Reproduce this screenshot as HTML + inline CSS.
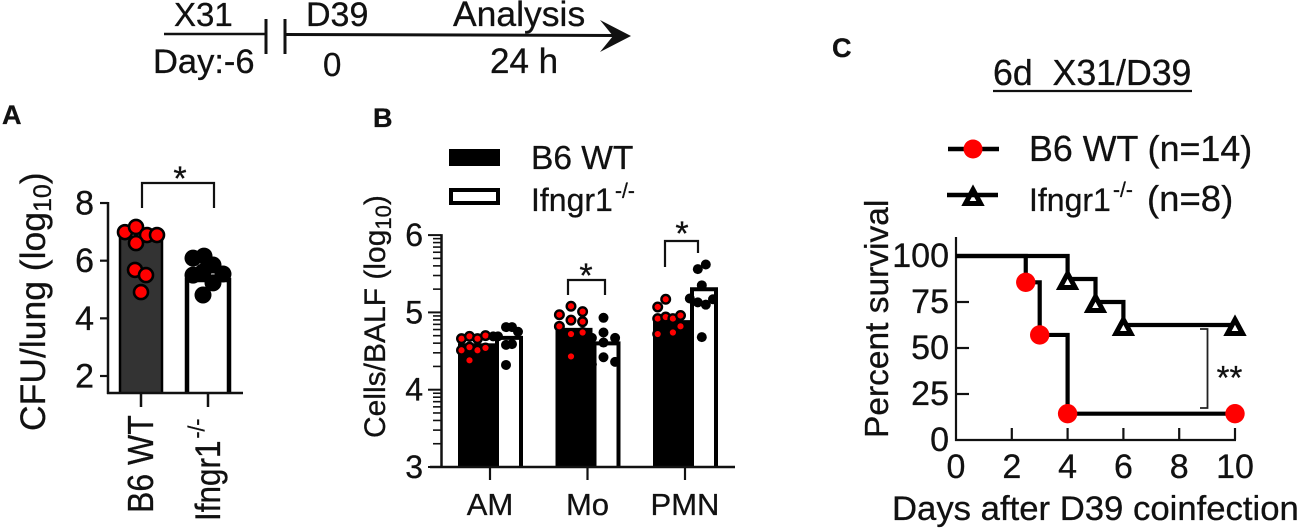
<!DOCTYPE html>
<html>
<head>
<meta charset="utf-8">
<title>X31/D39 coinfection figure</title>
<style>
html,body{margin:0;padding:0;background:#fff;width:1299px;height:529px;overflow:hidden}
svg{display:block}
text{font-family:"Liberation Sans",sans-serif;fill:#111;stroke:#111;stroke-width:.3px}
</style>
</head>
<body>
<svg id="fig" xmlns="http://www.w3.org/2000/svg" width="1299" height="529" viewBox="0 0 1299 529">
  <g>
    <line x1="164" y1="34" x2="266" y2="34" stroke="#111" stroke-width="2.5"/>
    <line x1="266" y1="19" x2="266" y2="54" stroke="#111" stroke-width="3"/>
    <line x1="285" y1="19" x2="285" y2="54" stroke="#111" stroke-width="3"/>
    <line x1="285" y1="34.500" x2="615" y2="35.500" stroke="#111" stroke-width="3"/>
    <path d="M631 36 L600 20 L613 36 L600 52 Z" fill="#111"/>
    <text x="174" y="26" font-size="33">X31</text>
    <text x="306" y="26" font-size="34">D39</text>
    <text x="453" y="26" font-size="35.500">Analysis</text>
    <text x="153" y="73" font-size="34.500">Day:-6</text>
    <text x="323" y="76" font-size="33">0</text>
    <text x="490" y="73" font-size="35">24 h</text>
  </g>
  <text x="2" y="124" font-size="27" font-weight="bold">A</text>
  <text x="373" y="127" font-size="27" font-weight="bold">B</text>
  <text x="832" y="57" font-size="27" font-weight="bold">C</text>

  <g id="panelA"></g>
  <g id="panelB"></g>
  <g id="panelC"></g>

  <text transform="translate(45,431) rotate(-90)" font-size="35.500">CFU/lung (log<tspan font-size="25" dy="6">10</tspan><tspan dy="-6">)</tspan></text>
  <text transform="translate(153,513) rotate(-90) scale(1,1.120)" font-size="32">B6 WT</text>
  <text transform="translate(220,521) rotate(-90) scale(1,1.120)" font-size="31.500">Ifngr1<tspan font-size="21" dy="-14" dx="2">-/-</tspan></text>

  <text transform="translate(385,438) rotate(-90)" font-size="30">Cells/BALF (log<tspan font-size="22" dy="6">10</tspan><tspan dy="-6">)</tspan></text>
  <g>
    <rect x="449" y="149" width="51" height="17" fill="#000"/>
    <rect x="451" y="190" width="47" height="13" fill="#fff" stroke="#000" stroke-width="4"/>
    <text x="531" y="169" font-size="33.500">B6 WT</text>
    <text x="531" y="211" font-size="32">Ifngr1<tspan font-size="21" x="615" y="198">-/-</tspan></text>
  </g>

  <g>
    <text x="993" y="85" font-size="35.700" xml:space="preserve">6d  X31/D39</text>
    <line x1="993" y1="91" x2="1192" y2="91" stroke="#111" stroke-width="2.200"/>
  </g>
  <g>
    <line x1="948" y1="149" x2="999" y2="149" stroke="#000" stroke-width="4.500"/>
    <circle cx="973" cy="149" r="9.500" fill="#ff0000"/>
    <path d="M973 189.600 L980.500 203.500 L965.500 203.500 Z" fill="#fff" stroke="#000" stroke-width="5"/>
    <line x1="947" y1="195" x2="998" y2="195" stroke="#000" stroke-width="4.500"/>
    <text x="1029" y="161" font-size="35.800">B6 WT (n=14)</text>
    <text x="1029" y="211" font-size="32">Ifngr1<tspan font-size="21" x="1113" y="197">-/-</tspan><tspan font-size="36.500" x="1147" y="211">(n=8)</tspan></text>
  </g>
  <text transform="translate(888,438) rotate(-90)" font-size="33.500">Percent survival</text>
  <text x="892" y="520" font-size="34.700">Days after D39 coinfection</text>
</svg>
<script>
// Panel A data
var aCategories = ['B6 WT', 'Ifngr1-/-'];
var aMeans = [6.79, 5.33];
var aTicks = [2, 4, 6, 8];
var aRed = [6.99, 7.17, 6.89, 6.89, 6.61, 5.68, 5.50, 4.91];
var aRedJitter = [-1.6, -0.5, 0.6, 1.6, -0.5, -0.6, 0.5, 0];
var aBlack = [6.09, 6.16, 5.85, 5.50, 5.54, 5.23, 5.61, 4.81];
var aBlackJitter = [-1.5, -0.4, 0.5, -1.5, 1.5, 0.5, -0.5, -0.5];

// Panel B data
var bCategories = ['AM', 'Mo', 'PMN'];
var bTicks = [3, 4, 5, 6];
var bWtMeans = [4.6, 4.8, 4.9];
var bKoMeans = [4.67, 4.6, 5.3];
var bWtPoints = [
  [4.66, 4.69, 4.66, 4.70, 4.51, 4.55, 4.51, 4.54, 4.38],
  [4.97, 5.08, 5.01, 4.82, 4.90, 4.88, 4.72, 4.74, 4.43],
  [5.07, 5.17, 4.92, 4.94, 4.92, 4.96, 4.82, 4.72, 4.74]
];
var bWtJitter = [
  [-1.5, -0.5, 0.5, 1.5, -1.5, -0.5, 0.5, 1.5, -0.5],
  [-1.45, 0, 1.45, -1.45, 0, 1.45, 0, 1.45, 0],
  [-1.35, -0.35, -1.35, -0.35, 0.55, 1.5, 1.5, -1.35, 0.55]
];
var bKoPoints = [
  [4.69, 4.69, 4.81, 4.81, 4.75, 4.58, 4.59, 4.32],
  [4.67, 4.93, 4.67, 4.74, 4.61, 4.42, 4.33, 4.36],
  [5.56, 5.62, 5.35, 5.18, 5.13, 5.10, 5.17, 4.68]
];
var bKoJitter = [
  [-1.6, -1, 0, 0.75, 1.5, 0, 0.75, 0],
  [-1.45, 0, 1.45, 0, 0, 0, -1.45, 1.45],
  [-0.4, 0.6, 0.1, -1.4, -0.4, 0.6, 1.5, 0.1]
];

// Panel C data
var cXTicks = [0, 2, 4, 6, 8, 10];
var cYTicks = [0, 25, 50, 75, 100];
var wtDays = [2.5, 3, 4, 10];
var wtSurvival = [85.7, 57.1, 14.3, 14.3];
var koDays = [4, 5, 6, 10];
var koSurvival = [87.5, 75, 62.5, 62.5];

var NS = 'http://www.w3.org/2000/svg';
function mk(parent, tag, attrs, txt) {
  var el = document.createElementNS(NS, tag);
  for (var k in attrs) el.setAttribute(k, attrs[k]);
  if (txt !== undefined) el.textContent = txt;
  parent.appendChild(el);
  return el;
}
function line(parent, x1, y1, x2, y2, w, color) {
  return mk(parent, 'line', {x1: x1, y1: y1, x2: x2, y2: y2, stroke: color || '#111', 'stroke-width': w});
}
function openBar(left, right, top, base) {
  return 'M' + left + ' ' + base + ' V' + top + ' H' + right + ' V' + base;
}
function stepPath(days, vals, x, y, startDay) {
  var d = 'M' + x(startDay) + ' ' + y(100);
  var prev = 100;
  for (var i = 0; i < days.length; i++) {
    d += ' L' + x(days[i]) + ' ' + y(prev) + ' L' + x(days[i]) + ' ' + y(vals[i]);
    prev = vals[i];
  }
  return d;
}

/* ---------- Panel A ---------- */
(function () {
  var g = document.getElementById('panelA');
  var yA = function (v) { return 376 - (v - 2) * 28.83; };
  var xA = function (i) { return 141 + i * 67; };
  aMeans.forEach(function (m, i) {
    var sw = i === 0 ? 2.5 : 4.5;
    var r = mk(g, 'path', {d: openBar(xA(i) - 21, xA(i) + 21, yA(m), 393), fill: i === 0 ? '#333333' : '#ffffff', stroke: '#000', 'stroke-width': sw});
    
    
  });
  aRed.forEach(function (v, i) {
    var c = mk(g, 'circle', {cx: xA(0) + aRedJitter[i] * 10, cy: yA(v), r: 7, fill: '#ff0000', stroke: '#000', 'stroke-width': 2.6});
    
    
  });
  aBlack.forEach(function (v, i) {
    var c = mk(g, 'circle', {cx: xA(1) + aBlackJitter[i] * 10, cy: yA(v), r: 8.5, fill: '#000'});
    
    
  });
  line(g, 108, yA(8) - 1, 108, 394, 2.5);
  line(g, 107, 393, 243, 393, 2.5);
  aTicks.forEach(function (t) {
    line(g, 100, yA(t), 108, yA(t), 2.2);
    var tx = mk(g, 'text', {x: 94, y: yA(t) + 11.5, 'font-size': 34, 'text-anchor': 'end'}, String(t));
    
    
  });
  aCategories.forEach(function (c, i) { line(g, xA(i), 393, xA(i), 407, 2.5); });
  var br = mk(g, 'path', {d: 'M142 208 V183 H214 V208', fill: 'none', stroke: '#111', 'stroke-width': 2.2});
  
  
  var st = mk(g, 'text', {x: 180, y: 190, 'font-size': 34, 'text-anchor': 'middle'}, '*');
  
  
})();

/* ---------- Panel B ---------- */
(function () {
  var g = document.getElementById('panelB');
  var yB = function (v) { return 467 - (v - 3) * 77.3; };
  var xC = function (i) { return 490 + i * 97.5; };
  bCategories.forEach(function (cat, i) {
    var wtL = xC(i) - 32, wtR = xC(i) + 5;
    var koL = wtR + 2, koR = xC(i) + 31;
    var r1 = mk(g, 'rect', {x: wtL, y: yB(bWtMeans[i]), width: wtR - wtL, height: 467 - yB(bWtMeans[i]), fill: '#000'});
    
    
    var r2 = mk(g, 'path', {d: openBar(koL, koR, yB(bKoMeans[i]), 467), fill: '#fff', stroke: '#000', 'stroke-width': 4});
    
    
  });
  bCategories.forEach(function (cat, i) {
    var wtC = xC(i) - 16.5, koC = xC(i) + 16;
    bWtPoints[i].forEach(function (v, j) {
      var c = mk(g, 'circle', {cx: wtC + bWtJitter[i][j] * 8, cy: yB(v), r: 4.3, fill: '#ff0000', stroke: '#000', 'stroke-width': 2.4});
      
      
    });
    bKoPoints[i].forEach(function (v, j) {
      var c = mk(g, 'circle', {cx: koC + bKoJitter[i][j] * 8, cy: yB(v), r: 5, fill: '#000'});
      
      
    });
    line(g, xC(i), 467, xC(i), 480, 2.2);
    var tx = mk(g, 'text', {x: xC(i), y: 515, 'font-size': 31, 'text-anchor': 'middle'}, cat);
    
    
  });
  line(g, 441.5, yB(6) - 1, 441.5, 468, 2.5);
  line(g, 430, 467, 735, 467, 2.5);
  bTicks.forEach(function (t, idx) {
    line(g, 428, yB(t), 441, yB(t), 2);
    if (idx < bTicks.length - 1) {
      for (var k = 2; k < 10; k++) {
        var yy = yB(t + Math.log10(k));
        line(g, 433, yy, 441, yy, 1.6);
      }
    }
    var tx = mk(g, 'text', {x: 423, y: yB(t) + 11, 'font-size': 32, 'text-anchor': 'end'}, String(t));
    
    
  });
  var b1 = mk(g, 'path', {d: 'M568 295 V280 H605 V295', fill: 'none', stroke: '#111', 'stroke-width': 2.2});
  
  
  var b2 = mk(g, 'path', {d: 'M665 267 V241 H698 V253', fill: 'none', stroke: '#111', 'stroke-width': 2.2});
  
  
  var s1 = mk(g, 'text', {x: 586, y: 287, 'font-size': 34, 'text-anchor': 'middle'}, '*');
  
  
  var s2 = mk(g, 'text', {x: 682, y: 245, 'font-size': 34, 'text-anchor': 'middle'}, '*');
  
  
})();

/* ---------- Panel C ---------- */
(function () {
  var g = document.getElementById('panelC');
  var x = function (d) { return 956 + d * 27.9; };
  var y = function (p) { return 440 - p * 1.84; };
  line(g, 956, 237, 956, 441, 2.2);
  line(g, 955, 440, x(10) + 1, 440, 2.2);
  cXTicks.forEach(function (t) {
    if (t > 0) line(g, x(t), 428, x(t), 440, 2.2);
    var tx = mk(g, 'text', {x: x(t), y: 478, 'font-size': 34, 'text-anchor': 'middle'}, String(t));
    
    
  });
  cYTicks.forEach(function (t) {
    if (t > 0) line(g, 956, y(t), 969, y(t), 2.2);
    var tx = mk(g, 'text', {x: 949, y: y(t) + 11, 'font-size': 34, 'text-anchor': 'end'}, String(t));
    
    
  });
  var koLine = mk(g, 'path', {d: stepPath(koDays, koSurvival, x, y, 0), fill: 'none', stroke: '#000', 'stroke-width': 4.2});
  
  
  var wtLine = mk(g, 'path', {d: stepPath(wtDays, wtSurvival, x, y, 0), fill: 'none', stroke: '#000', 'stroke-width': 4.2});
  
  
  koDays.forEach(function (d, i) {
    var cx = x(d), cy = y(koSurvival[i]);
    var t = mk(g, 'path', {d: 'M' + cx + ' ' + (cy - 5.4) + ' L' + (cx + 7.5) + ' ' + (cy + 8.5) + ' L' + (cx - 7.5) + ' ' + (cy + 8.5) + ' Z', fill: '#fff', stroke: '#000', 'stroke-width': 5});
    
    
  });
  wtDays.forEach(function (d, i) {
    var c = mk(g, 'circle', {cx: x(d), cy: y(wtSurvival[i]), r: 9.7, fill: '#ff0000'});
    
    
  });
  var br = mk(g, 'path', {d: 'M1200 329 H1207.500 V408 H1200', fill: 'none', stroke: '#222', 'stroke-width': 1.8});
  
  
  var st = mk(g, 'text', {x: 1229.5, y: 389, 'font-size': 33, 'text-anchor': 'middle'}, '**');
  
  
})();
</script>
</body>
</html>
